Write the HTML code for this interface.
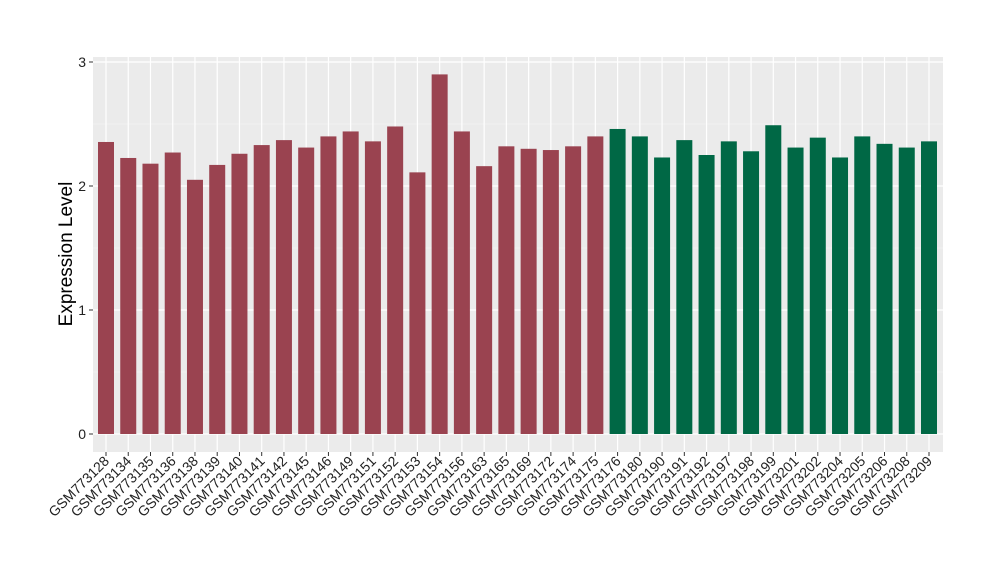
<!DOCTYPE html>
<html><head><meta charset="utf-8"><style>
body{margin:0;background:#fff;font-family:"Liberation Sans",sans-serif}
svg text{font-family:"Liberation Sans",sans-serif}
</style></head><body>
<svg id="chart" width="1000" height="580">
<rect x="93" y="57" width="850" height="395" fill="#ebebeb"/>
<g id="grid"></g><g id="bars"></g><g id="yaxis"></g><g id="xaxis"></g>
<text transform="translate(72,254) rotate(-90)" text-anchor="middle" font-size="19" fill="#000">Expression Level</text>
</svg>
<script>
const categories=["GSM773128","GSM773134","GSM773135","GSM773136","GSM773138","GSM773139","GSM773140","GSM773141","GSM773142","GSM773145","GSM773146","GSM773149","GSM773151","GSM773152","GSM773153","GSM773154","GSM773156","GSM773163","GSM773165","GSM773169","GSM773172","GSM773174","GSM773175","GSM773176","GSM773180","GSM773190","GSM773191","GSM773192","GSM773197","GSM773198","GSM773199","GSM773201","GSM773202","GSM773204","GSM773205","GSM773206","GSM773208","GSM773209"];
const values=[2.355,2.226,2.18,2.27,2.05,2.17,2.26,2.33,2.37,2.31,2.40,2.44,2.36,2.48,2.11,2.90,2.44,2.16,2.32,2.30,2.29,2.32,2.40,2.46,2.40,2.23,2.37,2.25,2.36,2.28,2.49,2.31,2.39,2.23,2.40,2.34,2.31,2.36];
const groups=["a","a","a","a","a","a","a","a","a","a","a","a","a","a","a","a","a","a","a","a","a","a","a","b","b","b","b","b","b","b","b","b","b","b","b","b","b","b"];
const yTicks=[0,1,2,3];
const NS="http://www.w3.org/2000/svg";
const y=v=>434-v*124;
const x=i=>106+i*(929-106)/(categories.length-1);
const colors={a:"#9a4350",b:"#006845"};
function mk(t,a,p){const e=document.createElementNS(NS,t);for(const k in a)e.setAttribute(k,a[k]);p.appendChild(e);return e;}
const grid=document.getElementById('grid'),bars=document.getElementById('bars'),ya=document.getElementById('yaxis'),xa=document.getElementById('xaxis');
for(let k=0;k<yTicks.length-1;k++){const l=mk('line',{x1:93,x2:943,y1:y(yTicks[k]+0.5),y2:y(yTicks[k]+0.5),stroke:'#f5f5f5','stroke-width':0.6},grid);

}
yTicks.forEach(t=>{const l=mk('line',{x1:93,x2:943,y1:y(t),y2:y(t),stroke:'#fff','stroke-width':1.2},grid);


const tk=mk('line',{x1:89,x2:93,y1:y(t),y2:y(t),stroke:'#333'},ya);


const tx=mk('text',{x:86,y:y(t)+5,'text-anchor':'end','font-size':14,fill:'#222'},ya);tx.textContent=t;

});
categories.forEach((c,i)=>{const l=mk('line',{x1:x(i),x2:x(i),y1:57,y2:452,stroke:'#fff','stroke-width':1.2},grid);


const r=mk('rect',{x:x(i)-8,y:y(values[i]),width:16,height:y(0)-y(values[i]),fill:colors[groups[i]]},bars);


const tk=mk('line',{x1:x(i),x2:x(i),y1:452,y2:456,stroke:'#333'},xa);


const tx=mk('text',{x:x(i)+4,y:462,'text-anchor':'end','font-size':14,fill:'#222',transform:`rotate(-45 ${x(i)+4} 462)`},xa);tx.textContent=c;

});
</script>
</body></html>
